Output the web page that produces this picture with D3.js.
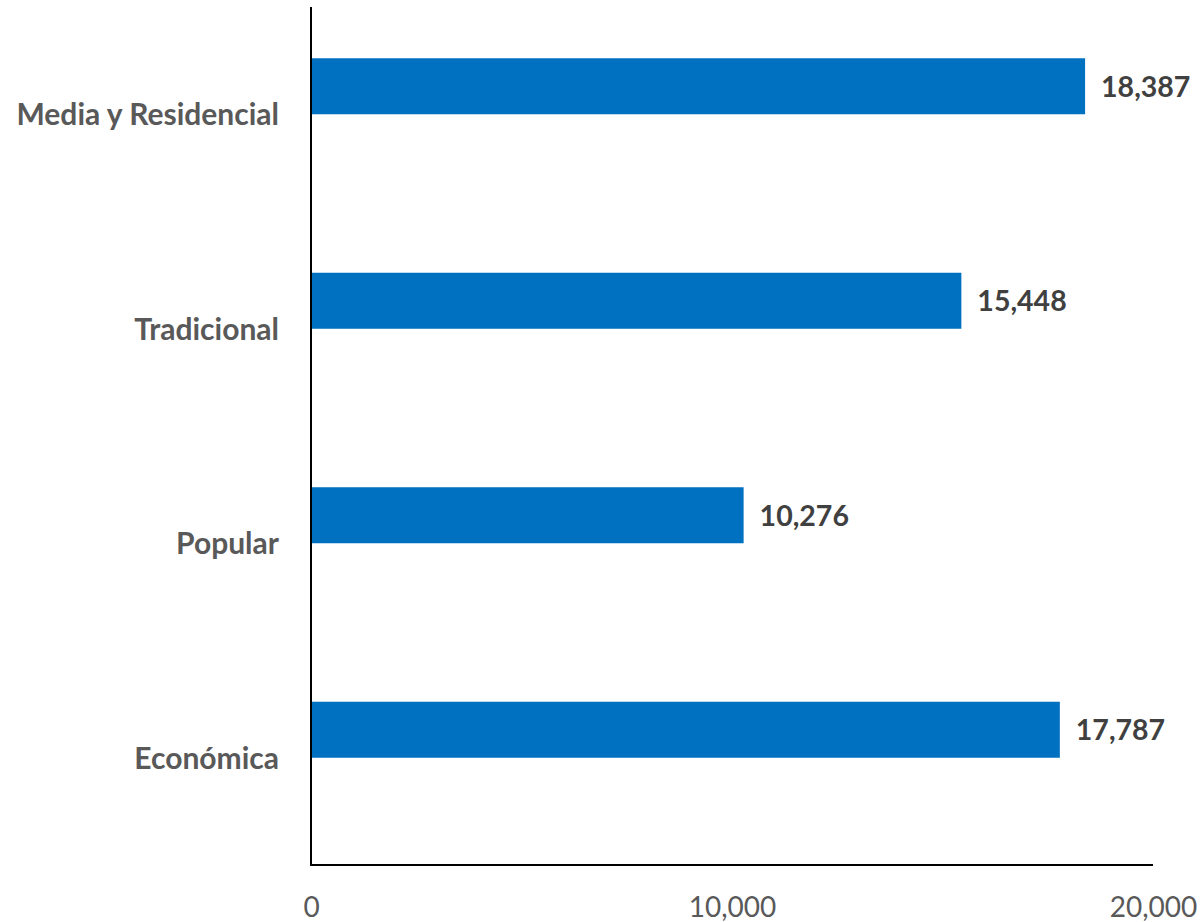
<!DOCTYPE html>
<html>
<head>
<meta charset="utf-8">
<script src="https://cdn.jsdelivr.net/npm/d3@7"></script>
<style>
  html, body { margin: 0; padding: 0; background: #fff; }
  svg { display: block; }
</style>
</head>
<body>
<svg id="chart" width="1202" height="922"></svg>
<script>
// Categories, top to bottom, and their values
const categories = ["Media y Residencial", "Tradicional", "Popular", "Económica"];
const values = [18387, 15448, 10276, 17787];
const tickValues = [0, 10000, 20000];

const svg = d3.select("#chart");
const font = "Lato, 'Open Sans', sans-serif";

const x = d3.scaleLinear().domain([0, 20000]).range([311, 1153]);
const y = d3.scaleBand().domain(categories).range([7, 865]);

const fmt = d3.format(",");
const barH = 56;

// Bars sit just above the middle of each category band
svg.append("g").selectAll("rect")
  .data(categories)
  .join("rect")
  .attr("x", x(0))
  .attr("y", (d) => y(d) + y.bandwidth() / 2 - barH)
  .attr("width", (d, i) => x(values[i]) - x(0))
  .attr("height", barH)
  .attr("fill", "#0070C0");

// Value labels
svg.append("g").selectAll("text")
  .data(categories)
  .join("text")
  .attr("x", (d, i) => x(values[i]) + 16)
  .attr("y", (d) => y(d) + y.bandwidth() / 2 - barH / 2)
  .attr("dy", "0.36em")
  .attr("font-family", font)
  .attr("font-weight", "bold")
  .attr("font-size", 28.5)
  .attr("fill", "#404040")
  .text((d, i) => fmt(values[i]));

// Category axis
const yAxis = svg.append("g")
  .attr("transform", `translate(${x(0)},0)`)
  .call(d3.axisLeft(y).tickSize(0).tickPadding(32));
yAxis.select(".domain").attr("stroke", "#000").attr("stroke-width", 2).attr("d", `M0,7V865`);
yAxis.selectAll("text")
  .attr("font-family", font)
  .attr("font-weight", "bold")
  .attr("font-size", 30)
  .attr("fill", "#595959")
  .attr("dy", "0.36em");

// Value axis
const xAxis = svg.append("g")
  .attr("transform", `translate(0,865)`)
  .call(d3.axisBottom(x).tickValues(tickValues).tickFormat(fmt).tickSize(0).tickPadding(42));
xAxis.select(".domain").attr("stroke", "#000").attr("stroke-width", 2).attr("d", `M${x(0) - 1},0H1153`);
xAxis.selectAll("text")
  .attr("font-family", font)
  .attr("font-size", 28)
  .attr("fill", "#595959")
  .attr("dy", "0.36em");
</script>
</body>
</html>
